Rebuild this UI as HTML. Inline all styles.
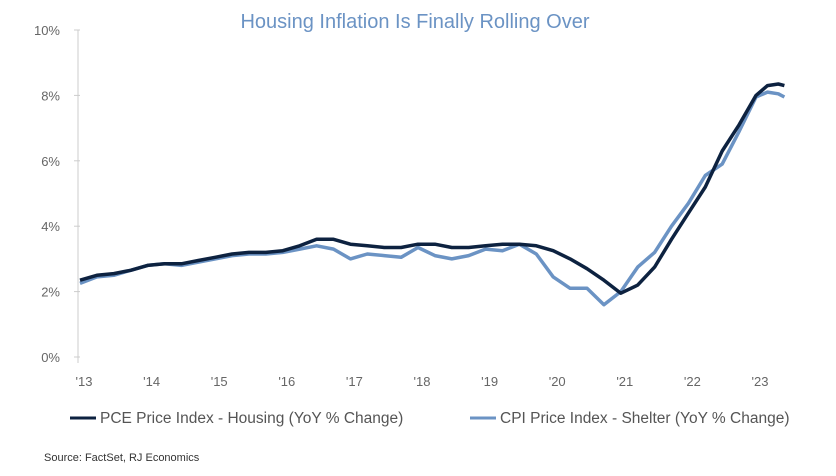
<!DOCTYPE html>
<html><head><meta charset="utf-8"><style>
body{margin:0;background:#fff;}
svg{display:block;font-family:"Liberation Sans",sans-serif;}
</style></head><body>
<svg width="836" height="476" viewBox="0 0 836 476">
<text x="415" y="28" text-anchor="middle" font-size="20" fill="#6b93c4">Housing Inflation Is Finally Rolling Over</text>
<g id="yaxis"></g>
<g id="xaxis"></g>
<g id="series"></g>
<g>
<line x1="70" y1="418" x2="96" y2="418" stroke="#0d2240" stroke-width="3"/>
<text x="100" y="423" font-size="15.5" fill="#555">PCE Price Index - Housing (YoY % Change)</text>
<line x1="470" y1="418" x2="496" y2="418" stroke="#6b93c4" stroke-width="3"/>
<text x="500" y="423" font-size="15.5" fill="#555">CPI Price Index - Shelter (YoY % Change)</text>
</g>
<text x="44" y="461" font-size="11" fill="#333">Source: FactSet, RJ Economics</text>
</svg>
<script>
const dates=[2013,2013.25,2013.5,2013.75,2014,2014.25,2014.5,2014.75,2015,2015.25,2015.5,2015.75,2016,2016.25,2016.5,2016.75,2017,2017.25,2017.5,2017.75,2018,2018.25,2018.5,2018.75,2019,2019.25,2019.5,2019.75,2020,2020.25,2020.5,2020.75,2021,2021.25,2021.5,2021.75,2022,2022.25,2022.5,2022.75,2023,2023.17,2023.33,2023.42];
const pce=[2.35,2.5,2.55,2.65,2.8,2.85,2.85,2.95,3.05,3.15,3.2,3.2,3.25,3.4,3.6,3.6,3.45,3.4,3.35,3.35,3.45,3.45,3.35,3.35,3.4,3.45,3.45,3.4,3.25,3.0,2.7,2.35,1.95,2.2,2.75,3.6,4.4,5.2,6.3,7.1,8.0,8.3,8.35,8.3];
const cpi=[2.25,2.45,2.5,2.65,2.8,2.85,2.8,2.9,3.0,3.1,3.15,3.15,3.2,3.3,3.4,3.3,3.0,3.15,3.1,3.05,3.35,3.1,3.0,3.1,3.3,3.25,3.45,3.15,2.45,2.1,2.1,1.6,2.0,2.75,3.2,4.0,4.7,5.55,5.9,6.9,7.95,8.1,8.05,7.95];
const yTicks=[0,2,4,6,8,10];
const xTicks=[2013,2014,2015,2016,2017,2018,2019,2020,2021,2022,2023];
const xLabels=["'13","'14","'15","'16","'17","'18","'19","'20","'21","'22","'23"];
const NS="http://www.w3.org/2000/svg";
function X(d){return 80+(d-2013)*67.6;}
function Y(v){return 357-v*32.7;}
function mk(t,a,p){const e=document.createElementNS(NS,t);for(const k in a)e.setAttribute(k,a[k]);p.appendChild(e);return e;}
const ya=document.getElementById('yaxis'),xa=document.getElementById('xaxis'),sg=document.getElementById('series');
yTicks.forEach(v=>{const t=mk('text',{x:60,y:Y(v)+5,'text-anchor':'end','font-size':13,fill:'#666'},ya);t.textContent=v+'%';


const l=mk('line',{x1:74,x2:80,y1:Y(v),y2:Y(v),stroke:'#ccc'},ya);

});
const al=mk('line',{x1:78,x2:78,y1:Y(10),y2:Y(0)+6,stroke:'#ccc'},ya);


xTicks.forEach((d,i)=>{const t=mk('text',{x:X(d)+4,y:386,'text-anchor':'middle','font-size':13,fill:'#666'},xa);t.textContent=xLabels[i];

});
function line(arr,col,name){const d=arr.map((v,i)=>(i?'L':'M')+X(dates[i]).toFixed(1)+','+Y(v).toFixed(1)).join('');
const p=mk('path',{d:d,fill:'none',stroke:col,'stroke-width':3.5,'stroke-linejoin':'round'},sg);

}
line(cpi,'#6b93c4','cpi-shelter-line');
line(pce,'#0d2240','pce-housing-line');
</script>
</body></html>
